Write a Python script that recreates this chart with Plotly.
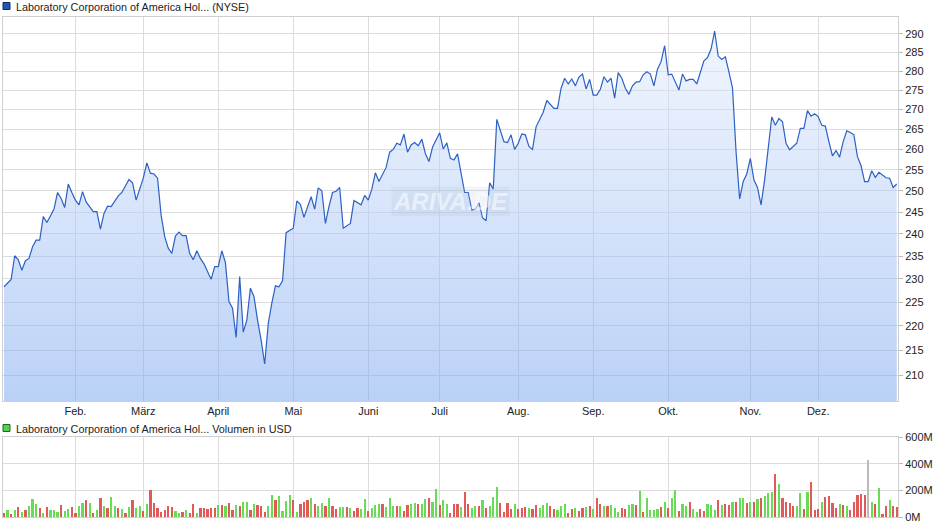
import math
import pandas as pd
import plotly.graph_objects as go

# ---------------- data ----------------
nyse_holidays = ["2025-01-09", "2025-01-20", "2025-02-17", "2025-04-18", "2025-05-26",
                 "2025-06-19", "2025-07-04", "2025-09-01", "2025-11-27", "2025-12-25",
                 "2026-01-01"]
dates = [d.strftime("%Y-%m-%d") for d in pd.bdate_range("2025-01-02", "2026-01-02")
         if d.strftime("%Y-%m-%d") not in nyse_holidays]

price = [
    228.3, 229.0, 229.9, 235.1, 234.2, 231.9, 234.0, 234.5, 237.1, 238.6,
    238.6, 244.0, 242.6, 244.1, 245.7, 249.6, 248.2, 246.1, 251.6, 249.6,
    247.8, 246.7, 249.8, 247.4, 246.3, 245.1, 245.1, 241.1, 244.7, 246.4,
    246.3, 247.6, 248.8, 249.6, 251.0, 252.7, 251.9, 247.8, 250.4, 253.0,
    256.7, 254.2, 254.0, 253.0, 244.3, 239.4, 236.8, 235.6, 239.5, 240.4,
    239.6, 239.6, 235.6, 234.2, 236.2, 234.5, 233.3, 231.6, 229.9, 232.7,
    232.7, 236.2, 233.6, 225.1, 223.7, 217.6, 230.5, 218.7, 221.2, 228.0,
    226.2, 221.2, 217.1, 212.2, 220.5, 224.8, 228.5, 228.3, 229.6, 240.3,
    240.9, 241.3, 247.6, 246.8, 243.8, 246.1, 248.6, 245.7, 250.7, 250.0,
    242.4, 246.3, 249.6, 249.9, 250.8, 241.3, 241.8, 242.4, 247.7, 247.1,
    246.7, 248.9, 247.8, 250.4, 254.3, 252.2, 254.0, 255.6, 259.3, 260.0,
    261.5, 261.1, 263.8, 259.3, 261.1, 261.7, 260.9, 262.5, 259.0, 257.0,
    260.5, 262.5, 264.1, 260.1, 261.6, 257.8, 257.4, 258.9, 253.8, 249.6,
    249.6, 245.5, 245.7, 247.2, 243.7, 243.0, 251.9, 250.4, 267.5, 264.4,
    261.9, 261.7, 263.6, 260.0, 261.5, 263.8, 263.6, 260.7, 260.0, 265.6,
    267.5, 269.3, 272.3, 271.3, 270.3, 270.3, 275.5, 278.1, 276.6, 277.9,
    276.1, 278.4, 279.2, 275.3, 277.8, 273.7, 273.7, 275.2, 278.5, 277.1,
    278.1, 272.9, 279.6, 278.1, 275.5, 273.9, 276.1, 277.1, 277.2, 279.0,
    279.8, 279.2, 276.1, 280.5, 282.5, 286.8, 279.0, 279.2, 277.0, 275.0,
    279.2, 277.4, 277.8, 277.8, 276.6, 279.8, 282.7, 283.6, 285.9, 290.8,
    284.0, 283.1, 283.8, 279.8, 275.6, 259.4, 248.1, 252.2, 254.0, 257.8,
    252.6, 250.8, 246.7, 252.6, 260.7, 268.1, 266.0, 267.7, 266.9, 261.5,
    259.9, 260.7, 261.5, 265.2, 265.2, 269.7, 268.3, 268.9, 268.2, 266.0,
    265.8, 261.9, 258.4, 259.7, 258.1, 261.9, 264.6, 264.2, 263.6, 258.2,
    256.0, 252.2, 252.2, 254.8, 253.2, 254.4, 253.8, 253.1, 253.0, 250.8,
    251.6,
]

# daily volume in million USD
volume_m = [
    30, 55, 25, 55, 75, 35, 55, 80, 135, 100,
    70, 30, 75, 55, 55, 40, 90, 45, 60, 75,
    30, 85, 105, 125, 105, 30, 55, 145, 85, 70,
    150, 80, 70, 60, 30, 75, 125, 70, 80, 45,
    100, 200, 105, 65, 40, 55, 80, 75, 45, 30,
    35, 50, 30, 100, 30, 70, 70, 60, 65, 70,
    90, 90, 85, 105, 50, 90, 80, 110, 110, 50,
    95, 90, 85, 40, 85, 165, 130, 155, 45, 120,
    165, 130, 40, 100, 110, 130, 140, 95, 85, 105,
    80, 140, 80, 60, 75, 75, 75, 70, 45, 70,
    60, 135, 45, 65, 90, 95, 95, 75, 140, 85,
    80, 85, 45, 90, 95, 105, 95, 95, 135, 140,
    110, 210, 90, 125, 95, 30, 100, 100, 75, 190,
    100, 65, 85, 80, 125, 70, 80, 150, 225, 105,
    35, 105, 60, 100, 60, 70, 75, 70, 60, 90,
    70, 90, 105, 80, 60, 50, 80, 95, 30, 60,
    65, 45, 65, 75, 85, 60, 145, 100, 80, 80,
    90, 70, 35, 65, 60, 90, 95, 90, 195, 35,
    145, 50, 55, 60, 75, 115, 70, 145, 205, 45,
    100, 85, 110, 60, 40, 60, 45, 95, 90, 55,
    130, 90, 95, 90, 110, 115, 140, 140, 105, 110,
    110, 135, 145, 160, 180, 190, 320, 245, 140, 115,
    105, 85, 80, 180, 60, 190, 260, 55, 60, 110,
    150, 155, 105, 70, 95, 90, 85, 50, 110, 165,
    170, 165, 430, 110, 100, 215, 20, 80, 125, 80,
    75,
]

# g = up day (green), r = down day (red), n = unchanged (grey)
vol_dir = list(
    "rgrgrgrggg"
    "rgrggg" "rggr"
    "rggrgrgrgr"
    "ggrgrgrggr"
    "grrrrrrrgg"
    "rgrrgrrrrr"
    "grgrrgrggr"
    "grrrggrggg"
    "grgrrrgrgg"
    "rgrrggrgrr"
    "ggrgggrggg"
    "rgrrggrggr"
    "ggrggrrrgr"
    "rggrgrgggr"
    "rrrgrrrgrr"
    "gggrrgggrr"
    "grrgrgrrgr"
    "gggrrggrgr"
    "ggggrgrggr"
    "ggrggrrggg"
    "rgrrgrggrg"
    "rgrgggrgrr"
    "rrggrgrrrg"
    "rrrrgrgrrr"
    "rrngrgrrgr"
    "r"
)

month_labels = ["Feb.", "März", "April", "Mai", "Juni", "Juli", "Aug.", "Sep.", "Okt.", "Nov.", "Dez."]
price_ticks = [210, 215, 220, 225, 230, 235, 240, 245, 250, 255, 260, 265, 270, 275, 280, 285, 290]
vol_ticks = [0, 200, 400, 600]
vol_tick_labels = ["0M", "200M", "400M", "600M"]

# first trading day of each month (Feb..Dec) for the month grid
month_starts = []
seen = set()
for d in dates:
    ym = d[:7]
    if ym not in seen:
        seen.add(ym)
        if "2025-02" <= ym <= "2025-12":
            month_starts.append(d)

color_map = {"g": "#66dd55", "r": "#e05a5a", "n": "#bbbbbb"}
bar_colors = [color_map[c] for c in vol_dir[:len(volume_m)]]

# ---------------- figure ----------------
W, H = 940, 526
L, R = 3, 42
PW = W - L - R


def px_x(px):
    return (px - L) / PW


def px_y(py):
    return (H - py) / H


FONT = "Liberation Sans, Arial, sans-serif"
GRID = "#dcdcdc"
n = len(dates)

fig = go.Figure()
fig.add_trace(go.Scatter(
    x=dates, y=price, mode="lines",
    line=dict(color="#2d60c4", width=1.2),
    fill="tozeroy",
    fillgradient=dict(type="vertical", start=205, stop=295,
                      colorscale=[[0, "rgba(122,166,239,0.52)"],
                                  [1, "rgba(232,240,253,0.5)"]]),
    xaxis="x", yaxis="y", hoverinfo="skip", showlegend=False,
))
fig.add_trace(go.Bar(
    x=dates, y=volume_m, width=0.62,
    marker=dict(color=bar_colors, line=dict(width=0)),
    xaxis="x2", yaxis="y2", hoverinfo="skip", showlegend=False,
))

xr = [-0.28, n - 1 + 0.35]
axis_common = dict(showgrid=True, gridcolor=GRID, gridwidth=1, zeroline=False,
                   showline=True, linecolor="#cfcfcf", linewidth=1, mirror=True,
                   automargin=False)

fig.update_layout(
    width=W, height=H,
    margin=dict(l=L, r=R, t=0, b=0, pad=0),
    paper_bgcolor="white", plot_bgcolor="white",
    font=dict(family=FONT, size=11, color="#222"),
    bargap=0,
    xaxis=dict(type="category", domain=[0, 1], range=xr, anchor="y",
               tickmode="array", tickvals=month_starts, ticktext=month_labels,
               ticks="", tickfont=dict(size=11, color="#222"), **axis_common),
    yaxis=dict(type="log", domain=[px_y(401), px_y(17)],
               range=[math.log10(204.9), math.log10(294.7)],
               side="right", anchor="x", tickmode="array", tickvals=price_ticks,
               ticks="outside", ticklen=4, tickcolor="#bbbbbb",
               tickfont=dict(size=11, color="#222"), **axis_common),
    xaxis2=dict(type="category", domain=[0, 1], range=xr, anchor="y2",
                tickmode="array", tickvals=month_starts, showticklabels=False,
                ticks="", **axis_common),
    yaxis2=dict(domain=[px_y(517), px_y(437)], range=[0, 600],
                side="right", anchor="x2", tickmode="array", tickvals=vol_ticks,
                ticktext=vol_tick_labels, ticks="outside", ticklen=4,
                tickcolor="#bbbbbb", tickfont=dict(size=11, color="#222"),
                **axis_common),
)

# legend squares
fig.add_shape(type="rect", xref="paper", yref="paper",
              x0=px_x(3), x1=px_x(10), y0=px_y(9.5), y1=px_y(2.5),
              fillcolor="#2456b8", line=dict(color="#0d2a66", width=1))
fig.add_shape(type="rect", xref="paper", yref="paper",
              x0=px_x(3), x1=px_x(10), y0=px_y(431.5), y1=px_y(424.5),
              fillcolor="#55d055", line=dict(color="#1f6a1f", width=1))

fig.add_annotation(xref="paper", yref="paper", x=px_x(13.5), y=px_y(6.5),
                   xanchor="left", yanchor="middle", showarrow=False,
                   text="Laboratory Corporation of America Hol... (NYSE)",
                   font=dict(family=FONT, size=10.8, color="#222"))
fig.add_annotation(xref="paper", yref="paper", x=px_x(13.5), y=px_y(428.5),
                   xanchor="left", yanchor="middle", showarrow=False,
                   text="Laboratory Corporation of America Hol... Volumen in USD",
                   font=dict(family=FONT, size=10.8, color="#222"))

# watermark
fig.add_annotation(xref="paper", yref="paper", x=px_x(450), y=px_y(202),
                   xanchor="center", yanchor="middle", showarrow=False,
                   text="<b><i>ARIVA.DE</i></b>",
                   font=dict(family=FONT, size=24, color="rgba(255,255,255,0.55)"),
                   bgcolor="rgba(170,185,210,0.16)", borderpad=1)

fig.write_html("out.html",
               config={"displayModeBar": False, "staticPlot": True},
               post_script="document.body.style.margin='0';document.body.style.overflow='hidden';")
